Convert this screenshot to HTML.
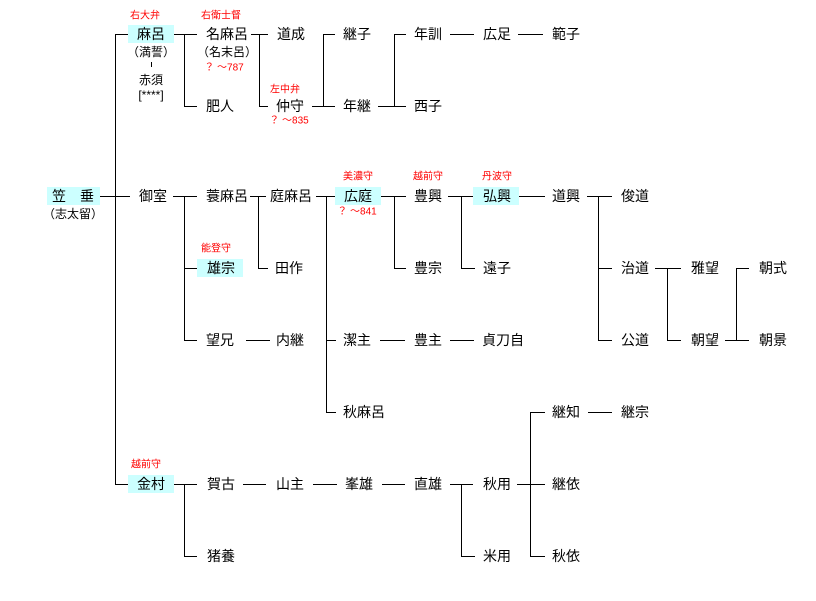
<!DOCTYPE html>
<html><head><meta charset="utf-8"><style>
html,body{margin:0;padding:0;background:#fff;}
svg{display:block;}
text{font-family:"Liberation Sans","Noto Sans CJK JP",sans-serif;fill:#000;dominant-baseline:central;}
.n{font-size:14px;text-anchor:middle;}
.s{font-size:14px;}
.r{font-size:10px;fill:#f00;text-anchor:middle;}
.p{font-size:12px;text-anchor:middle;}
line{stroke:#000;stroke-width:1;}
rect{fill:#ccffff;}
</style></head><body>
<svg width="816" height="601" viewBox="0 0 816 601" xmlns="http://www.w3.org/2000/svg" shape-rendering="crispEdges">
<rect x="128" y="25" width="46" height="18"/>
<rect x="47" y="187" width="53" height="18"/>
<rect x="197" y="259" width="46" height="18"/>
<rect x="335" y="187" width="46" height="18"/>
<rect x="473" y="187" width="46" height="18"/>
<rect x="128" y="475" width="46" height="18"/>
<g>
<line x1="100" y1="196.5" x2="130" y2="196.5"/>
<line x1="115.5" y1="34" x2="115.5" y2="484"/>
<line x1="115" y1="34.5" x2="128" y2="34.5"/>
<line x1="115" y1="484.5" x2="128" y2="484.5"/>
<line x1="174" y1="34.5" x2="197" y2="34.5"/>
<line x1="184.5" y1="34" x2="184.5" y2="106"/>
<line x1="184" y1="106.5" x2="197" y2="106.5"/>
<line x1="251" y1="34.5" x2="268" y2="34.5"/>
<line x1="259.5" y1="34" x2="259.5" y2="106"/>
<line x1="259" y1="106.5" x2="268" y2="106.5"/>
<line x1="312" y1="106.5" x2="335" y2="106.5"/>
<line x1="323.5" y1="34" x2="323.5" y2="106"/>
<line x1="323" y1="34.5" x2="335" y2="34.5"/>
<line x1="378" y1="106.5" x2="406" y2="106.5"/>
<line x1="394.5" y1="34" x2="394.5" y2="106"/>
<line x1="394" y1="34.5" x2="406" y2="34.5"/>
<line x1="450" y1="34.5" x2="474" y2="34.5"/>
<line x1="518" y1="34.5" x2="543" y2="34.5"/>
<line x1="173" y1="196.5" x2="197" y2="196.5"/>
<line x1="184.5" y1="196" x2="184.5" y2="340"/>
<line x1="184" y1="268.5" x2="197" y2="268.5"/>
<line x1="184" y1="340.5" x2="197" y2="340.5"/>
<line x1="250" y1="196.5" x2="266" y2="196.5"/>
<line x1="258.5" y1="196" x2="258.5" y2="268"/>
<line x1="258" y1="268.5" x2="268" y2="268.5"/>
<line x1="246" y1="340.5" x2="270" y2="340.5"/>
<line x1="316" y1="196.5" x2="335" y2="196.5"/>
<line x1="326.5" y1="196" x2="326.5" y2="412"/>
<line x1="326" y1="340.5" x2="336" y2="340.5"/>
<line x1="326" y1="412.5" x2="336" y2="412.5"/>
<line x1="381" y1="196.5" x2="406" y2="196.5"/>
<line x1="394.5" y1="196" x2="394.5" y2="268"/>
<line x1="394" y1="268.5" x2="406" y2="268.5"/>
<line x1="448" y1="196.5" x2="473" y2="196.5"/>
<line x1="461.5" y1="196" x2="461.5" y2="268"/>
<line x1="461" y1="268.5" x2="475" y2="268.5"/>
<line x1="519" y1="196.5" x2="545" y2="196.5"/>
<line x1="587" y1="196.5" x2="612" y2="196.5"/>
<line x1="598.5" y1="196" x2="598.5" y2="340"/>
<line x1="598" y1="268.5" x2="612" y2="268.5"/>
<line x1="598" y1="340.5" x2="612" y2="340.5"/>
<line x1="655" y1="268.5" x2="681" y2="268.5"/>
<line x1="667.5" y1="268" x2="667.5" y2="340"/>
<line x1="667" y1="340.5" x2="681" y2="340.5"/>
<line x1="725" y1="340.5" x2="749" y2="340.5"/>
<line x1="736.5" y1="268" x2="736.5" y2="340"/>
<line x1="736" y1="268.5" x2="749" y2="268.5"/>
<line x1="380" y1="340.5" x2="405" y2="340.5"/>
<line x1="450" y1="340.5" x2="474" y2="340.5"/>
<line x1="588" y1="412.5" x2="612" y2="412.5"/>
<line x1="530.5" y1="412" x2="530.5" y2="556"/>
<line x1="530" y1="412.5" x2="545" y2="412.5"/>
<line x1="530" y1="556.5" x2="545" y2="556.5"/>
<line x1="517" y1="484.5" x2="545" y2="484.5"/>
<line x1="174" y1="484.5" x2="197" y2="484.5"/>
<line x1="184.5" y1="484" x2="184.5" y2="556"/>
<line x1="184" y1="556.5" x2="197" y2="556.5"/>
<line x1="243" y1="484.5" x2="266" y2="484.5"/>
<line x1="313" y1="484.5" x2="337" y2="484.5"/>
<line x1="382" y1="484.5" x2="405" y2="484.5"/>
<line x1="450" y1="484.5" x2="473" y2="484.5"/>
<line x1="461.5" y1="484" x2="461.5" y2="556"/>
<line x1="461" y1="556.5" x2="475" y2="556.5"/>
<line x1="151.5" y1="62" x2="151.5" y2="67"/>
</g>
<text class="r" x="145" y="16">右大弁</text>
<text class="r" x="221" y="16">右衛士督</text>
<text class="r" x="224" y="68">？ ～787</text>
<text class="r" x="285" y="90">左中弁</text>
<text class="r" x="289" y="121">？ ～835</text>
<text class="r" x="358" y="177">美濃守</text>
<text class="r" x="357" y="212">？ ～841</text>
<text class="r" x="428" y="177">越前守</text>
<text class="r" x="497" y="177">丹波守</text>
<text class="r" x="216" y="249">能登守</text>
<text class="r" x="146" y="465">越前守</text>
<text class="n" x="151" y="34">麻呂</text>
<text class="p" x="151" y="52">（満誓）</text>
<text class="p" x="151" y="80">赤須</text>
<text class="p" x="151" y="95">[****]</text>
<text class="s" x="206" y="34">名麻呂</text>
<text class="p" x="227" y="52">（名末呂）</text>
<text class="s" x="206" y="106">肥人</text>
<text class="n" x="291" y="34">道成</text>
<text class="n" x="290" y="106">仲守</text>
<text class="n" x="357" y="34">継子</text>
<text class="n" x="357" y="106">年継</text>
<text class="n" x="428" y="34">年訓</text>
<text class="n" x="428" y="106">西子</text>
<text class="n" x="497" y="34">広足</text>
<text class="n" x="566" y="34">範子</text>
<text class="n" x="73" y="196" xml:space="preserve">笠　垂</text>
<text class="p" x="73" y="214">（志太留）</text>
<text class="n" x="153" y="196">御室</text>
<text class="s" x="206" y="196">蓑麻呂</text>
<text class="s" x="207" y="268">雄宗</text>
<text class="s" x="206" y="340">望兄</text>
<text class="n" x="291" y="196">庭麻呂</text>
<text class="n" x="289" y="268">田作</text>
<text class="n" x="290" y="340">内継</text>
<text class="n" x="358" y="196">広庭</text>
<text class="n" x="357" y="340">潔主</text>
<text class="s" x="343" y="412">秋麻呂</text>
<text class="n" x="428" y="196">豊興</text>
<text class="n" x="428" y="268">豊宗</text>
<text class="n" x="428" y="340">豊主</text>
<text class="n" x="497" y="196">弘興</text>
<text class="n" x="497" y="268">遠子</text>
<text class="n" x="503" y="340">貞刀自</text>
<text class="n" x="566" y="196">道興</text>
<text class="n" x="635" y="196">俊道</text>
<text class="n" x="635" y="268">治道</text>
<text class="n" x="635" y="340">公道</text>
<text class="n" x="705" y="268">雅望</text>
<text class="n" x="705" y="340">朝望</text>
<text class="n" x="773" y="268">朝式</text>
<text class="n" x="773" y="340">朝景</text>
<text class="n" x="566" y="412">継知</text>
<text class="n" x="635" y="412">継宗</text>
<text class="n" x="151" y="484">金村</text>
<text class="s" x="207" y="484">賀古</text>
<text class="s" x="207" y="556">猪養</text>
<text class="n" x="290" y="484">山主</text>
<text class="n" x="359" y="484">峯雄</text>
<text class="n" x="428" y="484">直雄</text>
<text class="n" x="497" y="484">秋用</text>
<text class="n" x="497" y="556">米用</text>
<text class="n" x="566" y="484">継依</text>
<text class="n" x="566" y="556">秋依</text>
</svg>
</body></html>
